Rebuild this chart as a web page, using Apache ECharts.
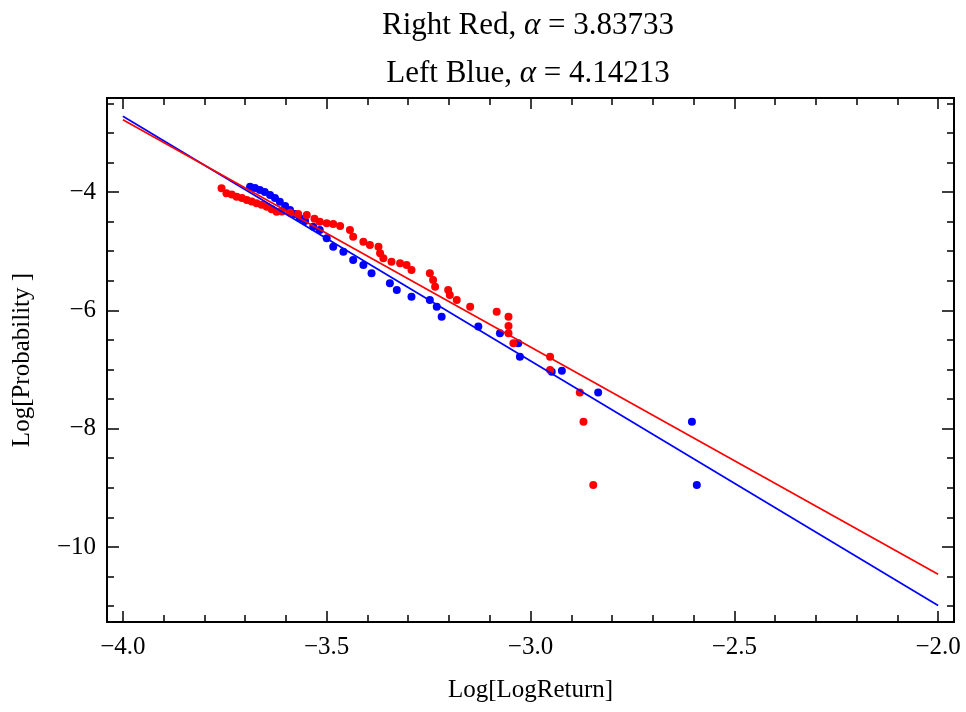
<!DOCTYPE html>
<html>
<head>
<meta charset="utf-8">
<script src="https://cdn.jsdelivr.net/npm/echarts@6/dist/echarts.min.js"></script>
<style>
  html, body { margin: 0; padding: 0; background: #fff; }
  #main { width: 966px; height: 712px; }
</style>
</head>
<body>
<div id="main"></div>
<script>
// right tail (red) points
var redX = [-3.758, -3.746, -3.733, -3.721, -3.708, -3.696, -3.684, -3.672, -3.660, -3.647,
  -3.635, -3.623, -3.610, -3.590, -3.570, -3.549, -3.530, -3.517, -3.500, -3.484,
  -3.467, -3.443, -3.435, -3.410, -3.394, -3.373, -3.369, -3.361, -3.341, -3.320,
  -3.304, -3.292, -3.247, -3.239, -3.234, -3.202, -3.198, -3.181, -3.148, -3.083,
  -3.054, -3.054, -3.054, -3.042, -2.952, -2.952, -2.879, -2.870, -2.846];
var redY = [-3.937, -4.022, -4.040, -4.079, -4.100, -4.135, -4.160, -4.191, -4.215, -4.248,
  -4.290, -4.333, -4.330, -4.350, -4.370, -4.389, -4.450, -4.502, -4.529, -4.540,
  -4.575, -4.642, -4.755, -4.840, -4.896, -4.924, -5.036, -5.121, -5.178, -5.205,
  -5.234, -5.318, -5.374, -5.487, -5.600, -5.656, -5.741, -5.825, -5.938, -6.023,
  -6.107, -6.265, -6.387, -6.557, -6.783, -7.008, -7.388, -7.882, -8.952];

// left tail (blue) points
var blueX = [-3.688, -3.676, -3.664, -3.652, -3.639, -3.627, -3.615, -3.602, -3.590, -3.578,
  -3.566, -3.553, -3.533, -3.517, -3.500, -3.484, -3.459, -3.435, -3.410, -3.390,
  -3.345, -3.328, -3.292, -3.247, -3.230, -3.218, -3.128, -3.075, -3.030, -3.026,
  -2.948, -2.923, -2.834, -2.604, -2.592];
var blueY = [-3.910, -3.932, -3.966, -4.000, -4.051, -4.101, -4.164, -4.237, -4.304, -4.372,
  -4.444, -4.490, -4.586, -4.642, -4.782, -4.924, -5.009, -5.149, -5.234, -5.374,
  -5.543, -5.656, -5.769, -5.825, -5.938, -6.107, -6.273, -6.388, -6.557, -6.783,
  -7.037, -7.020, -7.388, -7.882, -8.952];

// fitted lines, end points
var fitX = [-4, -2];
var redFitY = [-2.78, -10.46];
var blueFitY = [-2.72, -10.99];

// ticks
var xMajor = [-4, -3.5, -3, -2.5, -2];
var xMinor = [-3.9, -3.8, -3.7, -3.6, -3.4, -3.3, -3.2, -3.1, -2.9, -2.8, -2.7, -2.6,
  -2.4, -2.3, -2.2, -2.1];
var yMajor = [-4, -6, -8, -10];
var yMinor = [-2.5, -3, -3.5, -4.5, -5, -5.5, -6.5, -7, -7.5, -8.5, -9, -9.5, -10.5, -11];

var RED = '#ff0000';
var BLUE = '#0000ff';
var serif = '"Liberation Serif", "DejaVu Serif", serif';

function pairs(xs, ys) {
  return xs.map(function (x, i) { return [x, ys[i]]; });
}
function minus(s) { return String(s).replace('-', '\u2212'); }

var xMin = -4.039, xMax = -1.961;
var yMin = -11.268, yMax = -2.411;

// one axis = ticks at given values; several axes stacked on the same grid
function xAxisDef(pos, vals, len, labels) {
  return {
    type: 'value', position: pos, min: xMin, max: xMax,
    axisLine: { show: true, onZero: false, lineStyle: { color: '#000', width: 2 } },
    axisTick: { show: true, inside: true, length: len, customValues: vals,
      lineStyle: { color: '#000', width: 1.5 } },
    axisLabel: labels ? {
      show: true, customValues: vals, margin: 13, color: '#000',
      fontFamily: serif, fontSize: 25,
      formatter: function (v) { return minus(v.toFixed(1)); }
    } : { show: false },
    splitLine: { show: false }
  };
}
function yAxisDef(pos, vals, len, labels) {
  return {
    type: 'value', position: pos, min: yMin, max: yMax,
    axisLine: { show: true, onZero: false, lineStyle: { color: '#000', width: 2 } },
    axisTick: { show: true, inside: true, length: len, customValues: vals,
      lineStyle: { color: '#000', width: 1.5 } },
    axisLabel: labels ? {
      show: true, customValues: vals, margin: 11, color: '#000',
      fontFamily: serif, fontSize: 25,
      formatter: function (v) { return minus(v); }
    } : { show: false },
    splitLine: { show: false }
  };
}

var xAxes = [
  xAxisDef('bottom', xMajor, 11, true),
  xAxisDef('bottom', xMinor, 7, false),
  xAxisDef('top', xMajor, 11, false),
  xAxisDef('top', xMinor, 7, false)
];
xAxes[0].name = 'Log[LogReturn]';
xAxes[0].nameLocation = 'middle';
xAxes[0].nameGap = 56;
xAxes[0].nameTextStyle = { color: '#000', fontFamily: serif, fontSize: 25 };

var yAxes = [
  yAxisDef('left', yMajor, 12, true),
  yAxisDef('left', yMinor, 7, false),
  yAxisDef('right', yMajor, 12, false),
  yAxisDef('right', yMinor, 7, false)
];
yAxes[0].name = 'Log[Probability ]';
yAxes[0].nameLocation = 'middle';
yAxes[0].nameGap = 72;
yAxes[0].nameTextStyle = { color: '#000', fontFamily: serif, fontSize: 25 };

var titleRich = {
  n: { fontFamily: serif, fontSize: 31, color: '#000' },
  a: { fontFamily: serif, fontSize: 31, color: '#000', fontStyle: 'italic' }
};

var chart = echarts.init(document.getElementById('main'));
var option = {
  backgroundColor: '#fff',
  animation: false,
  grid: { left: 107, right: 12, top: 98, bottom: 90 },
  graphic: [{
    type: 'text', x: 528, y: 26,
    style: { text: '{n|Right Red, }{a|\u03b1}{n| = 3.83733}', rich: titleRich,
      align: 'center', verticalAlign: 'middle' }
  }, {
    type: 'text', x: 528, y: 74,
    style: { text: '{n|Left Blue, }{a|\u03b1}{n| = 4.14213}', rich: titleRich,
      align: 'center', verticalAlign: 'middle' }
  }],
  xAxis: xAxes,
  yAxis: yAxes,
  series: [{
    type: 'line', data: pairs(fitX, blueFitY), showSymbol: false,
    lineStyle: { color: BLUE, width: 1.7 }
  }, {
    type: 'line', data: pairs(fitX, redFitY), showSymbol: false,
    lineStyle: { color: RED, width: 1.7 }
  }, {
    type: 'scatter', data: pairs(blueX, blueY), symbolSize: 8,
    itemStyle: { color: BLUE, opacity: 1 }
  }, {
    type: 'scatter', data: pairs(redX, redY), symbolSize: 8,
    itemStyle: { color: RED, opacity: 1 }
  }]
};
chart.setOption(option);
</script>
</body>
</html>
